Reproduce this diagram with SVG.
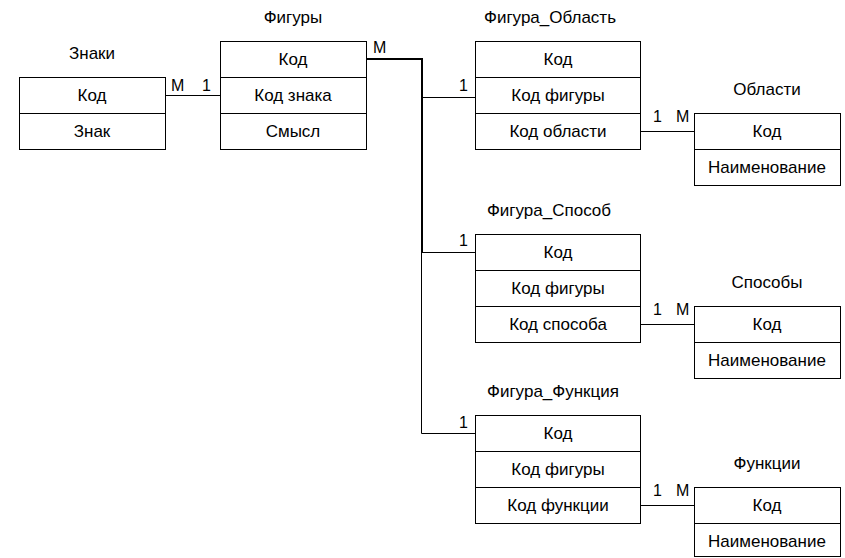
<svg xmlns="http://www.w3.org/2000/svg" width="845" height="558" viewBox="0 0 845 558">
<style>
.box{fill:#fff;stroke:#000;stroke-width:1}
.ln{fill:none;stroke:#000;stroke-width:1}
.bold{fill:none;stroke:#000;stroke-width:2}
text{font-family:"Liberation Sans",Arial,sans-serif;fill:#000}
.c{font-size:17px;text-anchor:middle}
.t{font-size:17px;text-anchor:middle}
.l{font-size:16px}
</style>
<rect width="845" height="558" fill="#fff"/>
<g id="connectors">
<polyline class="ln" points="165.5,95.5 220.5,95.5"/>
<polyline class="ln" points="421.5,97.5 475.5,97.5"/>
<polyline class="ln" points="421.5,252.5 475.5,252.5"/>
<polyline class="ln" points="421.5,252 421.5,433.5 475.5,433.5"/>
<polyline class="bold" points="366,59 422,59 422,253"/>
<polyline class="ln" points="640.5,131.5 694.5,131.5"/>
<polyline class="ln" points="640.5,324.5 694.5,324.5"/>
<polyline class="ln" points="640.5,505.5 694.5,505.5"/>
<text class="l" x="171" y="91">M</text>
<text class="l" x="202" y="91">1</text>
<text class="l" x="373" y="53">M</text>
<text class="l" x="459" y="91">1</text>
<text class="l" x="459" y="246">1</text>
<text class="l" x="459" y="428">1</text>
<text class="l" x="653" y="122">1</text>
<text class="l" x="676" y="122">M</text>
<text class="l" x="653" y="315">1</text>
<text class="l" x="676" y="315">M</text>
<text class="l" x="653" y="496">1</text>
<text class="l" x="676" y="496">M</text>
</g>
<g id="znaki">
<text class="t" x="92" y="59">Знаки</text>
<rect class="box" x="19.5" y="77.5" width="146" height="72"/>
<line class="ln" x1="19.5" y1="113.5" x2="165.5" y2="113.5"/>
<text class="c" x="92" y="101">Код</text>
<text class="c" x="92" y="137">Знак</text>
</g>
<g id="figury">
<text class="t" x="293" y="23">Фигуры</text>
<rect class="box" x="220.5" y="41.5" width="146" height="108"/>
<line class="ln" x1="220.5" y1="77.5" x2="366.5" y2="77.5"/>
<line class="ln" x1="220.5" y1="113.5" x2="366.5" y2="113.5"/>
<text class="c" x="293" y="65">Код</text>
<text class="c" x="293" y="101">Код знака</text>
<text class="c" x="293" y="137">Смысл</text>
</g>
<g id="figura_oblast">
<text class="t" x="550" y="23">Фигура_Область</text>
<rect class="box" x="475.5" y="41.5" width="165" height="108"/>
<line class="ln" x1="475.5" y1="77.5" x2="640.5" y2="77.5"/>
<line class="ln" x1="475.5" y1="113.5" x2="640.5" y2="113.5"/>
<text class="c" x="558" y="65">Код</text>
<text class="c" x="558" y="101">Код фигуры</text>
<text class="c" x="558" y="137">Код области</text>
</g>
<g id="oblasti">
<text class="t" x="767" y="95">Области</text>
<rect class="box" x="694.5" y="113.5" width="146" height="72"/>
<line class="ln" x1="694.5" y1="149.5" x2="840.5" y2="149.5"/>
<text class="c" x="767" y="137">Код</text>
<text class="c" x="767" y="173">Наименование</text>
</g>
<g id="figura_sposob">
<text class="t" x="549" y="216">Фигура_Способ</text>
<rect class="box" x="475.5" y="234.5" width="165" height="108"/>
<line class="ln" x1="475.5" y1="270.5" x2="640.5" y2="270.5"/>
<line class="ln" x1="475.5" y1="306.5" x2="640.5" y2="306.5"/>
<text class="c" x="558" y="258">Код</text>
<text class="c" x="558" y="294">Код фигуры</text>
<text class="c" x="558" y="330">Код способа</text>
</g>
<g id="sposoby">
<text class="t" x="767" y="288">Способы</text>
<rect class="box" x="694.5" y="306.5" width="146" height="72"/>
<line class="ln" x1="694.5" y1="342.5" x2="840.5" y2="342.5"/>
<text class="c" x="767" y="330">Код</text>
<text class="c" x="767" y="366">Наименование</text>
</g>
<g id="figura_funkciya">
<text class="t" x="553" y="397">Фигура_Функция</text>
<rect class="box" x="475.5" y="415.5" width="165" height="108"/>
<line class="ln" x1="475.5" y1="451.5" x2="640.5" y2="451.5"/>
<line class="ln" x1="475.5" y1="487.5" x2="640.5" y2="487.5"/>
<text class="c" x="558" y="439">Код</text>
<text class="c" x="558" y="475">Код фигуры</text>
<text class="c" x="558" y="511">Код функции</text>
</g>
<g id="funkcii">
<text class="t" x="767" y="469">Функции</text>
<rect class="box" x="694.5" y="487.5" width="146" height="69"/>
<line class="ln" x1="694.5" y1="523.5" x2="840.5" y2="523.5"/>
<text class="c" x="767" y="511">Код</text>
<text class="c" x="767" y="547">Наименование</text>
</g>
</svg>
